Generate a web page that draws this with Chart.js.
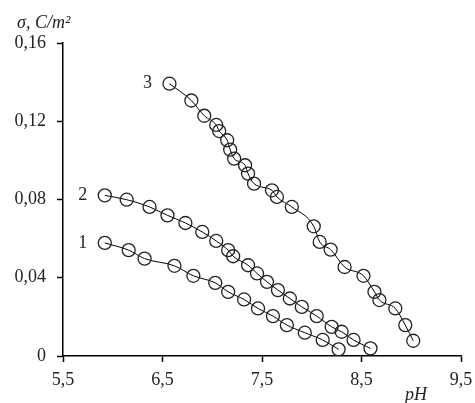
<!DOCTYPE html>
<html><head><meta charset="utf-8">
<script src="https://cdn.jsdelivr.net/npm/chart.js@4/dist/chart.umd.min.js"></script>
<style>html,body{margin:0;padding:0;background:#fff}#wrap{width:475px;height:403px}</style>
</head><body><div id="wrap"><canvas id="c" width="475" height="403"></canvas></div>
<script>
const curve1_pH = [5.92,6.16,6.32,6.62,6.81,7.03,7.16,7.32,7.46,7.61,7.75,7.93,8.11,8.27];
const curve1_sigma = [0.0578,0.0541,0.0498,0.0461,0.0410,0.0374,0.0328,0.0289,0.0243,0.0204,0.0158,0.0119,0.0082,0.0034];
const curve2_pH = [5.92,6.14,6.37,6.55,6.73,6.90,7.04,7.16,7.21,7.36,7.45,7.55,7.66,7.78,7.90,8.05,8.20,8.30,8.42,8.59];
const curve2_sigma = [0.0821,0.0799,0.0762,0.0719,0.0680,0.0634,0.0588,0.0541,0.0510,0.0464,0.0422,0.0379,0.0337,0.0294,0.0251,0.0204,0.0149,0.0124,0.0082,0.0039];
const curve3_pH = [6.57,6.79,6.92,7.04,7.07,7.15,7.18,7.22,7.33,7.36,7.42,7.60,7.65,7.80,8.02,8.08,8.19,8.33,8.52,8.63,8.68,8.84,8.94,9.02];
const curve3_sigma = [0.1392,0.1306,0.1228,0.1181,0.1150,0.1103,0.1055,0.1009,0.0975,0.0932,0.0881,0.0847,0.0813,0.0762,0.0663,0.0583,0.0544,0.0455,0.0410,0.0328,0.0286,0.0243,0.0158,0.0078];
const curveLabels = ["1","2","3"];
const xTicks = [5.5,6.5,7.5,8.5,9.5];
const yTicks = [0,0.04,0.08,0.12,0.16];
const yTitle = "σ, C/m²";
const xTitle = "pH";

const toPts = (xs, ys) => xs.map((x,i)=>({x:x, y:ys[i]}));
const series = [toPts(curve1_pH,curve1_sigma), toPts(curve2_pH,curve2_sigma), toPts(curve3_pH,curve3_sigma)];
const fmt = v => String(Math.round(v*100)/100).replace('.', ',');

const serif = "\"Liberation Serif\", \"Times New Roman\", Times, serif";

const labelPlugin = {
  id: 'labels',
  afterDatasetsDraw(chart) {
    const ctx = chart.ctx, xs = chart.scales.x, ys = chart.scales.y, ca = chart.chartArea;
    ctx.save();
    ctx.fillStyle = '#222';
    ctx.font = "18px " + serif;
    ctx.textAlign = 'center'; ctx.textBaseline = 'middle';
    series.forEach((pts, i) => {
      const p = pts[0];
      ctx.fillText(curveLabels[i], xs.getPixelForValue(p.x) - 22, ys.getPixelForValue(p.y));
    });
    ctx.font = "italic 18px " + serif;
    ctx.textAlign = 'left'; ctx.textBaseline = 'alphabetic';
    ctx.fillText(yTitle, ca.left - 46, ca.top - 15);
    ctx.fillText(xTitle, ca.right - 56, ca.bottom + 44);
    ctx.restore();
  }
};

new Chart(document.getElementById('c'), {
  type: 'line',
  data: {
    datasets: series.map(pts => ({
      data: pts,
      borderColor: '#000',
      borderWidth: 1,
      pointRadius: 6.5,
      pointBorderWidth: 1.3,
      pointBorderColor: '#222',
      pointBackgroundColor: 'rgba(0,0,0,0)',
      cubicInterpolationMode: 'monotone',
      fill: false
    }))
  },
  options: {
    responsive: false,
    animation: false,
    layout: { padding: { left: 0, top: 43, right: 14, bottom: 0 } },
    plugins: { legend: { display: false }, tooltip: { enabled: false } },
    scales: {
      x: {
        type: 'linear', min: 5.5, max: 9.5,
        afterBuildTicks: s => { s.ticks = xTicks.map(v => ({value: v})); },
        afterFit: s => { s.height = 47; s.paddingRight = 0; s.paddingLeft = 0; },
        ticks: { callback: v => fmt(v), color: '#222', font: { family: serif, size: 18 }, padding: 7, maxRotation: 0 },
        grid: { drawOnChartArea: false, drawTicks: true, tickLength: 6, color: '#000', tickWidth: 1.5 },
        border: { display: true, color: '#000', width: 1.5 }
      },
      y: {
        type: 'linear', min: 0, max: 0.16,
        afterBuildTicks: s => { s.ticks = yTicks.map(v => ({value: v})); },
        afterFit: s => { s.width = 63; s.paddingTop = 0; s.paddingBottom = 0; },
        ticks: { callback: v => fmt(v), color: '#222', font: { family: serif, size: 18 }, padding: 11 },
        grid: { drawOnChartArea: false, drawTicks: true, tickLength: 6, color: '#000', tickWidth: 1.5 },
        border: { display: true, color: '#000', width: 1.5 }
      }
    }
  },
  plugins: [labelPlugin]
});
</script></body></html>
